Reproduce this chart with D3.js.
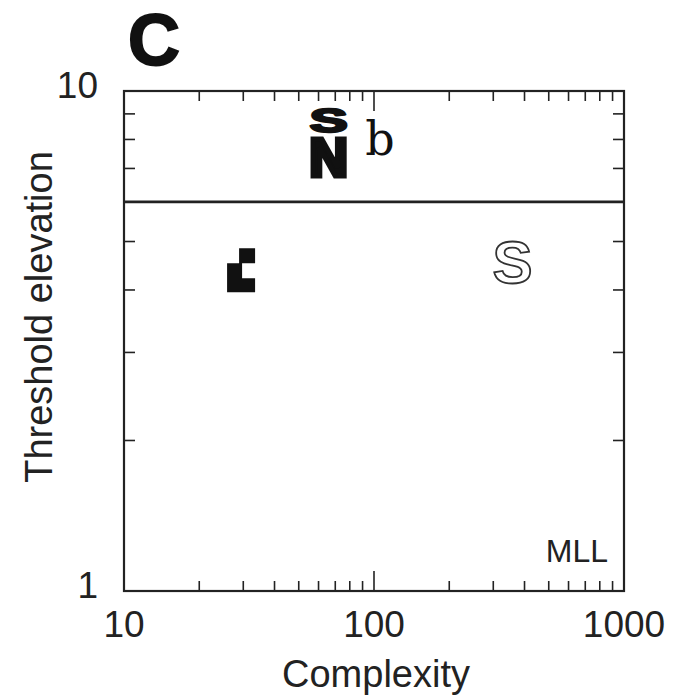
<!DOCTYPE html>
<html><head><meta charset="utf-8">
<script src="https://cdn.jsdelivr.net/npm/d3@7/dist/d3.min.js"></script>
<style>body{margin:0;background:#fff}svg{display:block}</style>
</head><body>
<script>
// data
const xDomain = [10, 1000];
const yDomain = [1, 10];
const xTickLabels = [10, 100, 1000];
const yTickLabels = [1, 10];
const thresholdValue = [6];
const markerNames = ["S", "N", "b", "Sopen", "blk"];
const markerX = [65.8, 65.8, 105.7, 358, 29.4];
const markerY = [8.73, 7.38, 8.07, 4.56, 4.38];
const panelLabel = "C";
const xTitle = "Complexity";
const yTitle = "Threshold elevation";
const noteText = "MLL";

const W = 682, H = 695;
const m = {left: 124, right: 58, top: 91, bottom: 104};
const svg = d3.select("body").append("svg").attr("width", W).attr("height", H);
const iw = W - m.left - m.right, ih = H - m.top - m.bottom;
const x = d3.scaleLog().domain(xDomain).range([m.left, m.left + iw]);
const y = d3.scaleLog().domain(yDomain).range([m.top + ih, m.top]);
const ink = "#222";
const sans = "'Liberation Sans', Arial, Helvetica, sans-serif";

// minor ticks
const xMinor = x.ticks();
const yMinor = y.ticks();
const g = svg.append("g").attr("stroke", ink).attr("stroke-width", 1.6);
xMinor.forEach(v => {
  const major = xTickLabels.includes(v);
  const len = major ? 20 : 10;
  if (v === xDomain[0] || v === xDomain[1]) return;
  g.append("line").attr("x1", x(v)).attr("x2", x(v)).attr("y1", y(1)).attr("y2", y(1) - len);
  g.append("line").attr("x1", x(v)).attr("x2", x(v)).attr("y1", y(10)).attr("y2", y(10) + len);
});
yMinor.forEach(v => {
  if (v === yDomain[0] || v === yDomain[1]) return;
  g.append("line").attr("x1", x(10)).attr("x2", x(10) + 11).attr("y1", y(v)).attr("y2", y(v));
  g.append("line").attr("x1", x(1000)).attr("x2", x(1000) - 11).attr("y1", y(v)).attr("y2", y(v));
});

// frame
svg.append("rect").attr("x", m.left).attr("y", m.top).attr("width", iw).attr("height", ih)
  .attr("fill", "none").attr("stroke", ink).attr("stroke-width", 2.2);

// threshold line
svg.selectAll(".thr").data(thresholdValue).join("line")
  .attr("x1", x(xDomain[0])).attr("x2", x(xDomain[1]))
  .attr("y1", d => y(d)).attr("y2", d => y(d))
  .attr("stroke", ink).attr("stroke-width", 2.6);

// tick labels
svg.selectAll(".xl").data(xTickLabels).join("text")
  .attr("x", d => x(d)).attr("y", m.top + ih + 46)
  .attr("text-anchor", "middle").attr("font-family", sans).attr("font-size", 37).attr("fill", ink)
  .text(d => d);
svg.selectAll(".yl").data(yTickLabels).join("text")
  .attr("x", m.left - 26).attr("y", d => y(d) + 7)
  .attr("text-anchor", "end").attr("font-family", sans).attr("font-size", 37).attr("fill", ink)
  .text(d => d);

// titles
svg.append("text").attr("x", x(100) + 2).attr("y", 687).attr("text-anchor", "middle")
  .attr("font-family", sans).attr("font-size", 38).attr("fill", ink).text(xTitle);
svg.append("text").attr("transform", `translate(52,317) rotate(-90)`)
  .attr("text-anchor", "middle").attr("font-family", sans).attr("font-size", 38).attr("fill", ink).text(yTitle);
svg.append("text").attr("x", 128).attr("y", 65).attr("font-family", sans).attr("font-weight", 900)
  .attr("font-size", 72).attr("fill", "#111").attr("stroke", "#111").attr("stroke-width", 2).text(panelLabel);
svg.append("text").attr("x", 608).attr("y", 562).attr("text-anchor", "end")
  .attr("font-family", sans).attr("font-size", 32).attr("fill", ink).text(noteText);

// markers
const pts = markerNames.map((n, i) => ({n, x: markerX[i], y: markerY[i]}));
pts.forEach(p => {
  const cx = x(p.x), cy = y(p.y);
  const gg = svg.append("g").attr("transform", `translate(${cx},${cy})`);
  if (p.n === "S") {
    gg.append("text").attr("transform", "scale(1.05,0.6)").attr("y", 20).attr("text-anchor", "middle")
      .attr("font-family", sans).attr("font-weight", 900).attr("font-size", 54)
      .attr("fill", "#111").attr("stroke", "#111").attr("stroke-width", 4).attr("stroke-linejoin", "round").text("S");
  } else if (p.n === "N") {
    gg.append("text").attr("y", 19).attr("text-anchor", "middle")
      .attr("font-family", sans).attr("font-weight", 900).attr("font-size", 53)
      .attr("fill", "#111").attr("stroke", "#111").attr("stroke-width", 5).attr("stroke-linejoin", "miter").text("N");
  } else if (p.n === "b") {
    gg.append("text").attr("y", 17).attr("text-anchor", "middle")
      .attr("font-family", "'DejaVu Serif', 'Liberation Serif', serif").attr("font-size", 46)
      .attr("fill", "#111").text("b");
  } else if (p.n === "Sopen") {
    gg.append("text").attr("y", 21).attr("text-anchor", "middle")
      .attr("font-family", sans).attr("font-weight", 900).attr("font-size", 60)
      .attr("fill", "#fff").attr("stroke", "#333").attr("stroke-width", 1.8).text("S");
  } else {
    gg.append("path").attr("fill", "#111")
      .attr("d", "M-2,-22H14V-7H-2Z M-14,-7H1V8H14V22H-14Z");
  }
});
</script>
</body></html>
